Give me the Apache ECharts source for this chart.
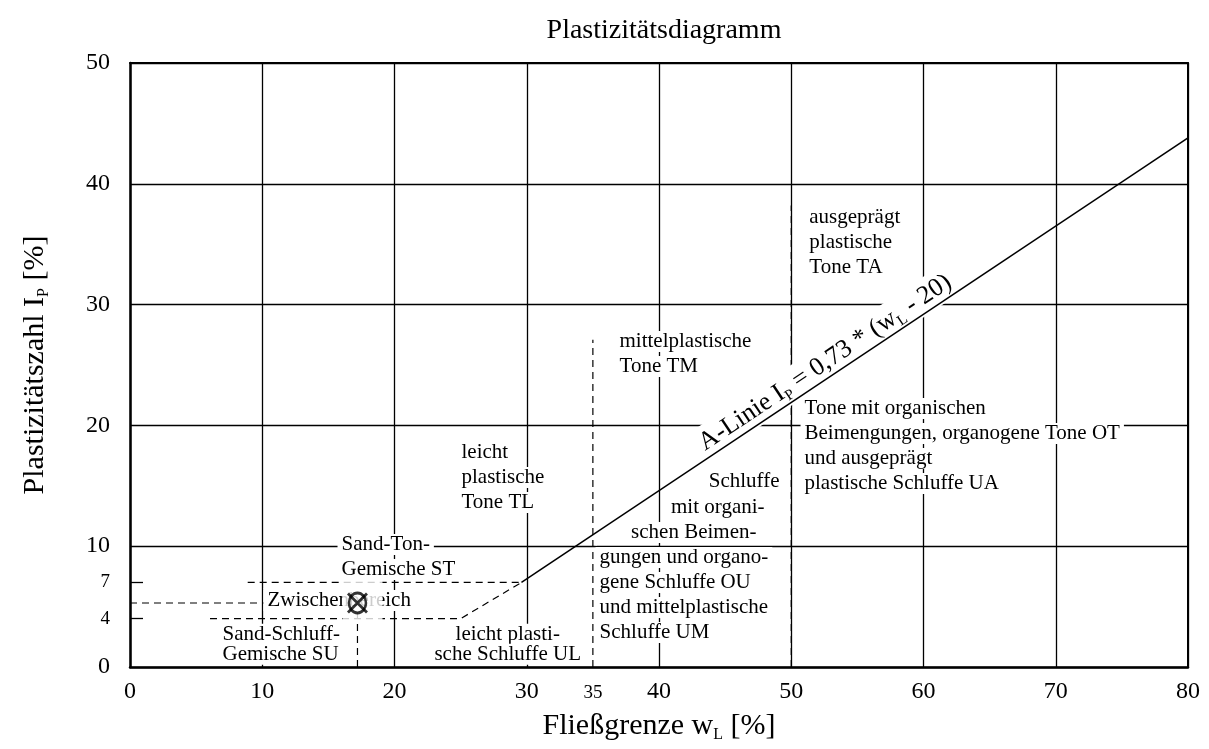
<!DOCTYPE html>
<html>
<head>
<meta charset="utf-8">
<title>Plastizitätsdiagramm</title>
<script src="https://cdn.jsdelivr.net/npm/echarts@6/dist/echarts.min.js"></script>
<style>
  html, body { margin: 0; padding: 0; background: #fff; }
  #chart { width: 1209px; height: 749px; }
</style>
</head>
<body>
<div id="chart"></div>
<script>
// Achsenbeschriftung
var xTicks = [0, 10, 20, 30, 35, 40, 50, 60, 70, 80];
var yTicks = [0, 4, 7, 10, 20, 30, 40, 50];
var smallTicks = [4, 7, 35];
var yInnerTicks = [4, 7];

// A-Linie Ip = 0,73 * (wL - 20)
var aLine = [[29.6, 7], [80, 43.8]];

// gestrichelte Bereichsgrenzen
var boundaries = [
  [[8.9, 7], [29.6, 7]],
  [[6.05, 4], [25, 4], [29.6, 7]],
  [[35, 0], [35, 27.1]],
  [[50, 0], [50, 38.2]]
];

// Probe mit Hilfslinien
var sample = [[17.2, 5.3]];
var sampleLines = [
  [[0, 5.3], [17.2, 5.3]],
  [[17.2, 0], [17.2, 5.3]]
];

// Bereichstexte: x, y (obere Kante), Ausrichtung, Zeilenhoehe, Zeilen
var areaLabels = [
  [51.1, 38.2, "left", 25, ["ausgeprägt", "plastische", "Tone TA"]],
  [36.75, 27.94, "left", 25, ["mittelplastische", "Tone TM"]],
  [24.8, 18.75, "left", 25, ["leicht", "plastische", "Tone TL"]],
  [50.74, 22.39, "left", 25, ["Tone mit organischen", "Beimengungen, organogene Tone OT", "und ausgeprägt", "plastische Schluffe UA"]],
  [49.45, 16.35, "right", 25, ["Schluffe"]],
  [48.32, 14.2, "right", 25, ["mit organi-"]],
  [47.71, 12.13, "right", 25, ["schen Beimen-"]],
  [35.24, 10.06, "left", 25, ["gungen und organo-", "gene Schluffe OU", "und mittelplastische", "Schluffe UM"]],
  [15.73, 11.13, "left", 25, ["Sand-Ton-", "Gemische ST"]],
  [10.13, 6.5, "left", 25, ["Zwischenbereich"]],
  [6.73, 3.5, "left", 20, ["Sand-Schluff-", "Gemische SU"]],
  [28.6, 3.5, "center", 20, ["leicht plasti-", "sche Schluffe UL"]]
];

// Beschriftung der A-Linie
var aLineLabel = [[52.6, 25.15]];

var font = "Liberation Serif";

var chart = echarts.init(document.getElementById("chart"));

var series = [];

boundaries.concat(sampleLines).forEach(function (seg) {
  series.push({
    type: "line",
    data: seg,
    symbol: "none",
    silent: true,
    z: 3,
    lineStyle: { color: "#000", width: 1.2, type: [7, 5] }
  });
});

series.push({
  type: "scatter",
  z: 4,
  silent: true,
  symbolSize: 1,
  itemStyle: { color: "#fff", opacity: 1 },
  data: areaLabels.map(function (a) {
    return {
      value: [a[0], a[1]],
      label: {
        show: true,
        position: [0, 0],
        align: a[2],
        verticalAlign: "top",
        formatter: a[4].map(function (l) { return "{w|" + l + "}"; }).join("\n"),
        rich: {
          w: {
            fontFamily: font,
            fontSize: 21,
            lineHeight: a[3],
            color: "#000",
            backgroundColor: "#fff",
            padding: [0, 4]
          }
        }
      }
    };
  })
});

series.push({
  type: "scatter",
  z: 4,
  silent: true,
  symbolSize: 1,
  itemStyle: { color: "#fff", opacity: 1 },
  data: aLineLabel,
  label: {
    show: true,
    position: [0, 0],
    align: "center",
    verticalAlign: "middle",
    rotate: 33.7,
    backgroundColor: "#fff",
    padding: [2, 6],
    fontFamily: font,
    fontSize: 26,
    lineHeight: 30,
    color: "#000",
    formatter: "A-Linie I{sub|P} = 0,73 * (w{sub|L} - 20)",
    rich: {
      sub: { fontFamily: font, fontSize: 15, lineHeight: 15, verticalAlign: "bottom", color: "#000" }
    }
  }
});

// weisser Kasten hinter der Probe
series.push({
  type: "scatter",
  z: 6,
  silent: true,
  data: sample,
  symbol: "rect",
  symbolSize: [40, 46],
  symbolOffset: [5, -2],
  itemStyle: { color: "#fff" }
});
series.push({
  type: "scatter",
  z: 7,
  silent: true,
  data: sample,
  symbol: "circle",
  symbolSize: [17, 20],
  itemStyle: { color: "rgba(255,255,255,0)", borderColor: "#000", borderWidth: 2.8 }
});
series.push({
  type: "scatter",
  z: 8,
  silent: true,
  data: sample,
  symbol: "path://M0,0L10,10M10,0L0,10",
  symbolSize: [19, 19],
  itemStyle: { color: "rgba(0,0,0,0)", borderColor: "#000", borderWidth: 2.8 }
});

series.push({
  type: "line",
  z: 8,
  silent: true,
  data: aLine,
  symbol: "none",
  lineStyle: { color: "#000", width: 1.5 }
});

function tickFmt(v) {
  return smallTicks.indexOf(v) >= 0 ? "{s|" + v + "}" : "{b|" + v + "}";
}
var yTickRich = {
  b: { fontFamily: font, fontSize: 24, color: "#000" },
  s: { fontFamily: font, fontSize: 19, color: "#000" }
};
var xTickRich = {
  b: { fontFamily: font, fontSize: 24, color: "#000" },
  s: { fontFamily: font, fontSize: 19, color: "#000", padding: [4, 0, 0, 0] }
};

var subRich = { sub: { fontFamily: font, fontSize: 16, lineHeight: 16, verticalAlign: "bottom", color: "#000" } };

var option = {
  animation: false,
  backgroundColor: "#fff",
  title: {
    text: "Plastizitätsdiagramm",
    left: 659,
    textAlign: "center",
    top: 12,
    textStyle: { fontFamily: font, fontSize: 28, fontWeight: "normal", color: "#000" }
  },
  grid: { left: 130, right: 21, top: 63, bottom: 82 },
  xAxis: [
    {
      type: "value",
      min: 0,
      max: 80,
      interval: 10,
      position: "bottom",
      z: 10,
      name: "Fließgrenze w{sub|L} [%]",
      nameLocation: "middle",
      nameGap: 35,
      nameTextStyle: { fontFamily: font, fontSize: 30, lineHeight: 34, color: "#000", rich: subRich },
      axisLine: { onZero: false, lineStyle: { color: "#000", width: 2.5 } },
      axisTick: { show: false },
      splitLine: { show: false },
      axisLabel: { customValues: xTicks, margin: 13, formatter: tickFmt, rich: xTickRich }
    },
    {
      type: "value",
      min: 0,
      max: 80,
      interval: 10,
      position: "top",
      z: 0,
      axisLine: { onZero: false, lineStyle: { color: "#000", width: 2 } },
      axisTick: { show: false },
      axisLabel: { show: false },
      splitLine: { show: true, lineStyle: { color: "#000", width: 1.3 } }
    }
  ],
  yAxis: [
    {
      type: "value",
      min: 0,
      max: 50,
      interval: 10,
      position: "left",
      z: 10,
      name: "Plastizitätszahl I{sub|P} [%]",
      nameLocation: "middle",
      nameGap: 78,
      nameTextStyle: { fontFamily: font, fontSize: 30, lineHeight: 34, color: "#000", rich: subRich },
      axisLine: { onZero: false, lineStyle: { color: "#000", width: 2.5 } },
      axisTick: { show: true, inside: true, length: 13, customValues: yInnerTicks, lineStyle: { color: "#000", width: 1.3 } },
      splitLine: { show: false },
      axisLabel: { customValues: yTicks, margin: 20, formatter: tickFmt, rich: yTickRich }
    },
    {
      type: "value",
      min: 0,
      max: 50,
      interval: 10,
      position: "right",
      z: 0,
      axisLine: { onZero: false, lineStyle: { color: "#000", width: 2 } },
      axisTick: { show: false },
      axisLabel: { show: false },
      splitLine: { show: true, lineStyle: { color: "#000", width: 1.3 } }
    }
  ],
  series: series
};

chart.setOption(option);
</script>
</body>
</html>
